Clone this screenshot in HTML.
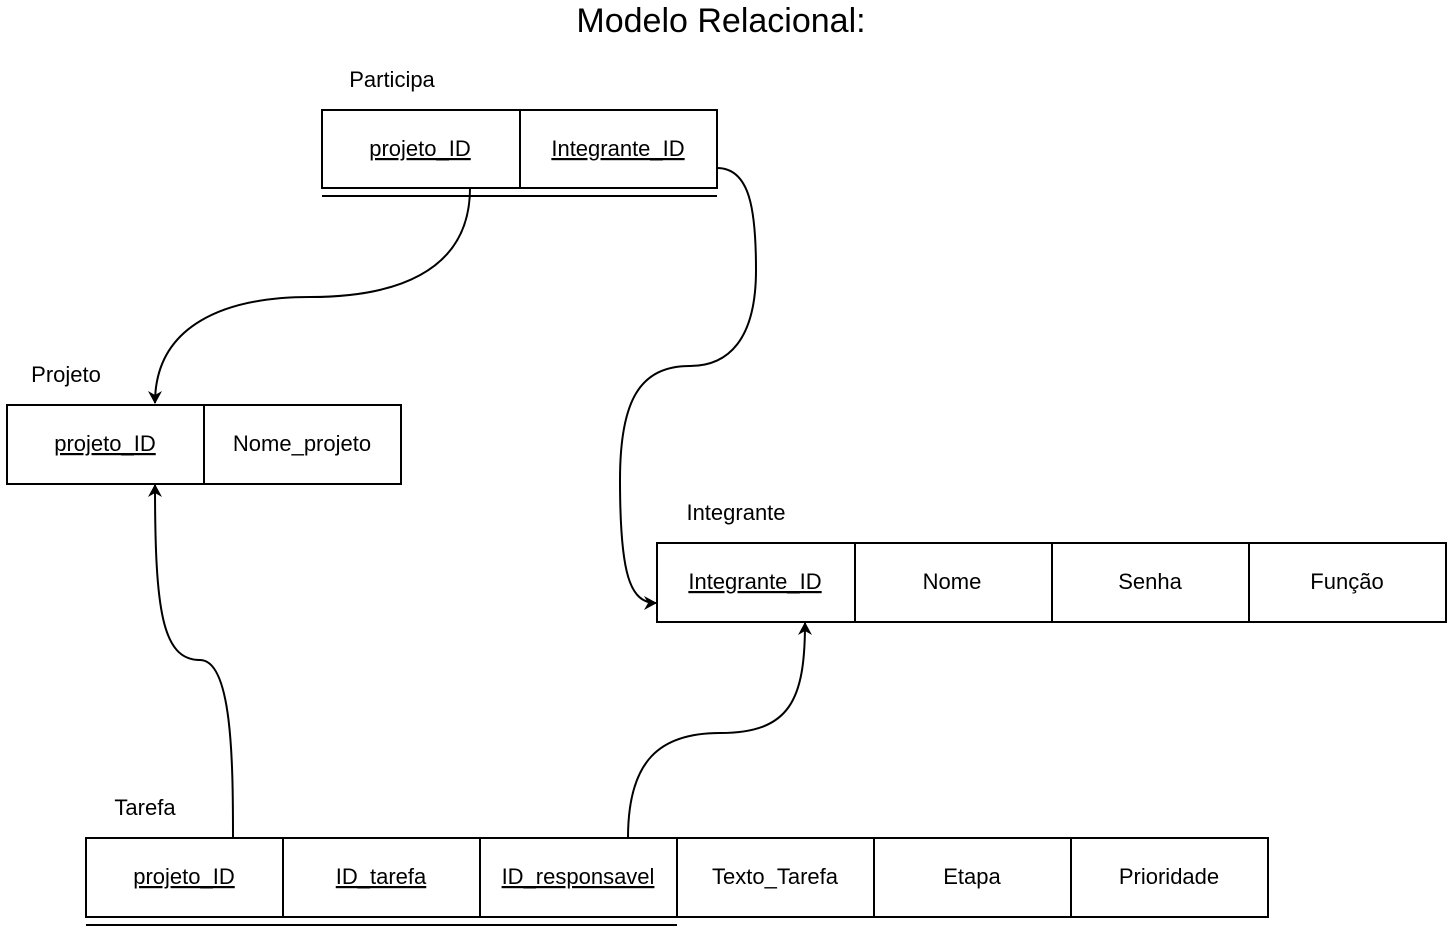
<!DOCTYPE html>
<html><head><style>
body{margin:0;background:#fff;}
svg text{font-family:"Liberation Sans",Arial,sans-serif;fill:#000;}
</style></head><body>
<svg width="1454" height="926" viewBox="0 0 1454 926" xmlns="http://www.w3.org/2000/svg">
<defs><marker id="a" markerWidth="16" markerHeight="16" refX="12" refY="7" orient="auto" markerUnits="userSpaceOnUse"><path d="M0,0 L13,7 L0,14 L4,7 Z" fill="#000"/></marker></defs>
<text x="721" y="32" font-size="34" text-anchor="middle">Modelo Relacional:</text>
<g font-size="22" text-anchor="middle">
<text x="392" y="87">Participa</text>
<text x="66" y="382">Projeto</text>
<text x="736" y="520">Integrante</text>
<text x="145" y="815">Tarefa</text>
</g>
<g fill="#fff" stroke="#000" stroke-width="2">
<rect x="322" y="110" width="395" height="78"/><line x1="520" y1="110" x2="520" y2="188"/>
<rect x="7" y="405" width="394" height="79"/><line x1="204" y1="405" x2="204" y2="484"/>
<rect x="657" y="543" width="789" height="79"/>
<line x1="855" y1="543" x2="855" y2="622"/><line x1="1052" y1="543" x2="1052" y2="622"/><line x1="1249" y1="543" x2="1249" y2="622"/>
<rect x="86" y="838" width="1182" height="79"/>
<line x1="283" y1="838" x2="283" y2="917"/><line x1="480" y1="838" x2="480" y2="917"/><line x1="677" y1="838" x2="677" y2="917"/><line x1="874" y1="838" x2="874" y2="917"/><line x1="1071" y1="838" x2="1071" y2="917"/>
<line x1="322" y1="196" x2="717" y2="196"/>
<line x1="86" y1="925" x2="677" y2="925"/>
</g>
<g font-size="22" text-anchor="middle">
<text x="420" y="156" text-decoration="underline">projeto_ID</text>
<text x="618" y="156" text-decoration="underline">Integrante_ID</text>
<text x="105" y="451" text-decoration="underline">projeto_ID</text>
<text x="302" y="451">Nome_projeto</text>
<text x="755" y="589" text-decoration="underline">Integrante_ID</text>
<text x="952" y="589">Nome</text>
<text x="1150" y="589">Senha</text>
<text x="1347" y="589">Função</text>
<text x="184" y="884" text-decoration="underline">projeto_ID</text>
<text x="381" y="884" text-decoration="underline">ID_tarefa</text>
<text x="578" y="884" text-decoration="underline">ID_responsavel</text>
<text x="775" y="884">Texto_Tarefa</text>
<text x="972" y="884">Etapa</text>
<text x="1169" y="884">Prioridade</text>
</g>
<g fill="none" stroke="#000" stroke-width="2">
<path d="M470,188 C470,275 390,297 310,297 C225,297 155,325 155,403" marker-end="url(#a)"/>
<path d="M717,168 C750,168 756,210 756,270 C756,340 728,366 690,366 C640,366 620,400 620,480 C620,575 630,603 656,603" marker-end="url(#a)"/>
<path d="M233,838 C233,760 232,660 200,660 C162,660 155,610 155,485" marker-end="url(#a)"/>
<path d="M628,838 C628,760 660,733 720,733 C790,733 805,700 805,623" marker-end="url(#a)"/>
</g>
</svg>
</body></html>
